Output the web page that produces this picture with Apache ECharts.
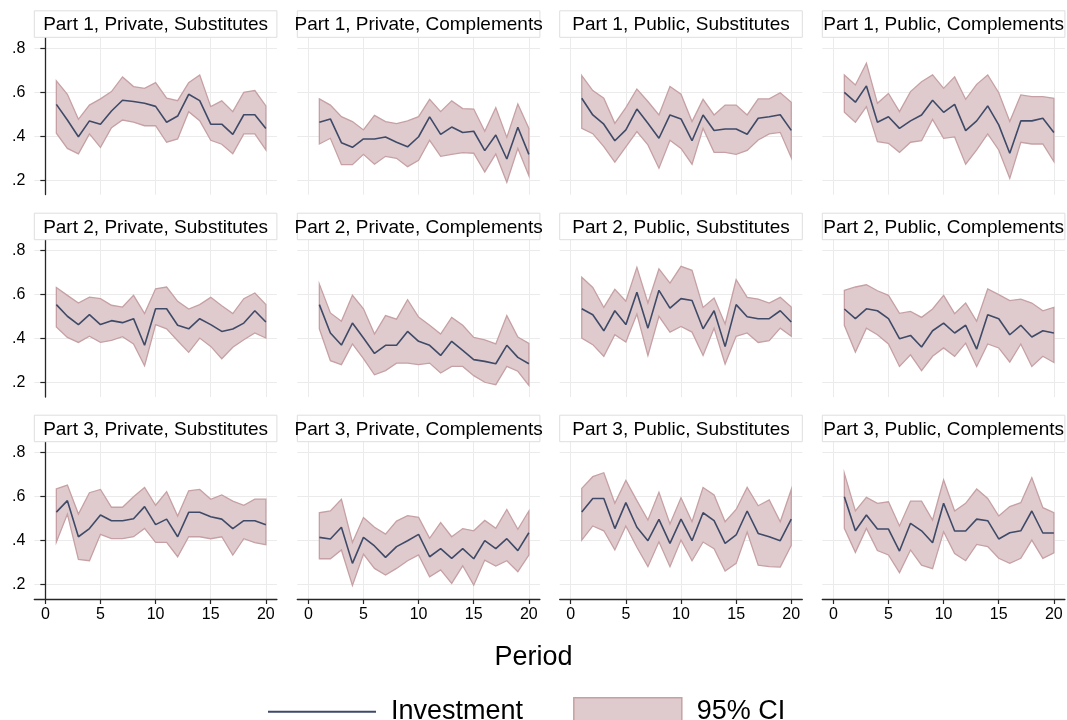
<!DOCTYPE html>
<html>
<head>
<meta charset="utf-8">
<script src="https://cdn.jsdelivr.net/npm/echarts@6/dist/echarts.min.js"></script>
<style>
  html, body { margin: 0; padding: 0; background: #fff; }
  #chart { width: 1067px; height: 720px; }
</style>
</head>
<body>
<div id="chart"></div>
<script>
// periods on the x axis
const periods = [1,2,3,4,5,6,7,8,9,10,11,12,13,14,15,16,17,18,19,20];
const xTicks = [0, 5, 10, 15, 20];
const yTicks = [0.2, 0.4, 0.6, 0.8];

// Part 1
const inv_p1_priv_sub = [0.545,0.474,0.398,0.470,0.455,0.515,0.564,0.558,0.550,0.536,0.464,0.492,0.591,0.562,0.455,0.455,0.409,0.498,0.498,0.436];
const hi_p1_priv_sub  = [0.652,0.591,0.477,0.542,0.570,0.603,0.670,0.626,0.618,0.644,0.573,0.562,0.644,0.679,0.535,0.561,0.512,0.600,0.608,0.538];
const lo_p1_priv_sub  = [0.414,0.345,0.320,0.411,0.350,0.439,0.474,0.464,0.448,0.448,0.373,0.388,0.512,0.471,0.382,0.364,0.321,0.411,0.411,0.338];

const inv_p1_priv_com = [0.464,0.479,0.371,0.350,0.388,0.388,0.397,0.373,0.352,0.398,0.488,0.409,0.442,0.417,0.423,0.335,0.406,0.297,0.441,0.318];
const hi_p1_priv_com  = [0.570,0.542,0.489,0.467,0.429,0.495,0.467,0.458,0.470,0.489,0.568,0.512,0.561,0.526,0.524,0.423,0.530,0.395,0.547,0.436];
const lo_p1_priv_com  = [0.365,0.391,0.271,0.271,0.318,0.273,0.309,0.300,0.262,0.291,0.382,0.309,0.318,0.326,0.323,0.238,0.320,0.191,0.345,0.221];

const inv_p1_pub_sub = [0.573,0.497,0.455,0.380,0.429,0.524,0.459,0.391,0.497,0.479,0.380,0.497,0.426,0.433,0.433,0.409,0.482,0.489,0.498,0.427];
const hi_p1_pub_sub  = [0.676,0.608,0.573,0.459,0.530,0.615,0.558,0.497,0.626,0.591,0.467,0.568,0.497,0.542,0.542,0.497,0.570,0.570,0.598,0.555];
const lo_p1_pub_sub  = [0.436,0.412,0.353,0.283,0.352,0.421,0.361,0.255,0.382,0.345,0.273,0.436,0.327,0.327,0.318,0.336,0.383,0.411,0.418,0.303];

const inv_p1_pub_com = [0.600,0.555,0.629,0.464,0.489,0.436,0.470,0.497,0.564,0.509,0.545,0.426,0.470,0.538,0.452,0.323,0.470,0.470,0.482,0.417];
const hi_p1_pub_com  = [0.679,0.633,0.732,0.550,0.595,0.512,0.603,0.648,0.679,0.618,0.670,0.568,0.636,0.679,0.598,0.467,0.588,0.580,0.580,0.573];
const lo_p1_pub_com  = [0.509,0.464,0.535,0.376,0.368,0.327,0.373,0.380,0.477,0.391,0.397,0.273,0.338,0.411,0.338,0.209,0.373,0.365,0.365,0.285];

// Part 2
const inv_p2_priv_sub = [0.555,0.502,0.464,0.509,0.464,0.482,0.473,0.491,0.370,0.536,0.536,0.461,0.445,0.491,0.464,0.433,0.444,0.471,0.527,0.476];
const hi_p2_priv_sub  = [0.633,0.597,0.562,0.589,0.582,0.552,0.544,0.597,0.514,0.627,0.635,0.570,0.535,0.555,0.588,0.550,0.514,0.582,0.608,0.555];
const lo_p2_priv_sub  = [0.453,0.406,0.383,0.411,0.383,0.392,0.409,0.376,0.277,0.464,0.445,0.391,0.338,0.403,0.365,0.309,0.361,0.395,0.426,0.403];

const inv_p2_priv_com = [0.555,0.426,0.371,0.471,0.403,0.333,0.370,0.370,0.433,0.388,0.370,0.324,0.388,0.347,0.305,0.297,0.286,0.370,0.315,0.286];
const hi_p2_priv_com  = [0.648,0.517,0.479,0.597,0.536,0.421,0.505,0.489,0.577,0.498,0.461,0.421,0.497,0.461,0.406,0.395,0.376,0.505,0.408,0.379];
const lo_p2_priv_com  = [0.445,0.300,0.282,0.376,0.309,0.236,0.255,0.289,0.289,0.282,0.289,0.244,0.274,0.274,0.232,0.202,0.191,0.274,0.252,0.188];

const inv_p2_pub_sub = [0.536,0.509,0.436,0.527,0.464,0.611,0.448,0.620,0.539,0.582,0.574,0.445,0.527,0.364,0.555,0.500,0.491,0.491,0.527,0.476];
const hi_p2_pub_sub  = [0.679,0.633,0.542,0.624,0.570,0.724,0.562,0.717,0.653,0.729,0.711,0.542,0.585,0.467,0.668,0.588,0.580,0.562,0.588,0.544];
const lo_p2_pub_sub  = [0.403,0.373,0.320,0.418,0.385,0.512,0.324,0.502,0.430,0.456,0.430,0.324,0.448,0.285,0.411,0.426,0.383,0.391,0.448,0.411];

const inv_p2_pub_com = [0.535,0.491,0.536,0.527,0.491,0.400,0.415,0.362,0.436,0.471,0.426,0.461,0.353,0.509,0.491,0.418,0.461,0.408,0.436,0.426];
const hi_p2_pub_com  = [0.620,0.635,0.645,0.618,0.597,0.515,0.524,0.497,0.535,0.597,0.514,0.562,0.479,0.626,0.600,0.573,0.580,0.562,0.527,0.542];
const lo_p2_pub_com  = [0.461,0.339,0.448,0.418,0.376,0.274,0.327,0.255,0.320,0.358,0.320,0.380,0.274,0.376,0.358,0.294,0.376,0.274,0.320,0.292];

// Part 3
const inv_p3_priv_sub = [0.530,0.582,0.418,0.455,0.517,0.491,0.491,0.500,0.555,0.473,0.498,0.418,0.529,0.529,0.509,0.498,0.455,0.491,0.491,0.473];
const hi_p3_priv_sub  = [0.636,0.653,0.521,0.618,0.633,0.552,0.552,0.600,0.642,0.561,0.623,0.512,0.627,0.633,0.588,0.608,0.580,0.561,0.589,0.589];
const lo_p3_priv_sub  = [0.394,0.521,0.315,0.309,0.429,0.409,0.409,0.418,0.456,0.392,0.392,0.327,0.418,0.418,0.409,0.418,0.335,0.409,0.391,0.382];

const inv_p3_priv_com = [0.415,0.408,0.461,0.297,0.415,0.376,0.324,0.373,0.400,0.429,0.327,0.364,0.320,0.364,0.318,0.400,0.364,0.409,0.355,0.436];
const hi_p3_priv_com  = [0.527,0.535,0.588,0.392,0.505,0.461,0.430,0.489,0.514,0.506,0.411,0.482,0.418,0.455,0.445,0.492,0.456,0.542,0.452,0.535];
const lo_p3_priv_com  = [0.318,0.318,0.358,0.197,0.339,0.274,0.244,0.274,0.309,0.335,0.236,0.267,0.206,0.286,0.198,0.312,0.285,0.309,0.259,0.335];

const inv_p3_pub_sub = [0.530,0.592,0.592,0.455,0.573,0.461,0.400,0.497,0.388,0.498,0.400,0.527,0.491,0.388,0.426,0.535,0.433,0.418,0.400,0.498];
const hi_p3_pub_sub  = [0.638,0.691,0.709,0.570,0.674,0.582,0.494,0.620,0.476,0.595,0.486,0.642,0.608,0.486,0.542,0.642,0.559,0.585,0.486,0.633];
const lo_p3_pub_sub  = [0.403,0.467,0.445,0.358,0.467,0.370,0.282,0.395,0.282,0.403,0.309,0.394,0.364,0.262,0.297,0.439,0.289,0.282,0.280,0.379];

const inv_p3_pub_com = [0.600,0.445,0.517,0.453,0.453,0.353,0.479,0.445,0.391,0.570,0.444,0.444,0.498,0.491,0.408,0.436,0.445,0.535,0.435,0.435];
const hi_p3_pub_com  = [0.706,0.535,0.597,0.570,0.577,0.467,0.580,0.580,0.494,0.676,0.535,0.570,0.635,0.592,0.512,0.555,0.573,0.686,0.550,0.527];
const lo_p3_pub_com  = [0.456,0.347,0.456,0.355,0.335,0.255,0.358,0.289,0.273,0.441,0.342,0.309,0.383,0.373,0.320,0.297,0.320,0.403,0.320,0.345];

const panels = [
  { title: 'Part 1, Private, Substitutes', mean: inv_p1_priv_sub, lo: lo_p1_priv_sub, hi: hi_p1_priv_sub },
  { title: 'Part 1, Private, Complements', mean: inv_p1_priv_com, lo: lo_p1_priv_com, hi: hi_p1_priv_com },
  { title: 'Part 1, Public, Substitutes',  mean: inv_p1_pub_sub,  lo: lo_p1_pub_sub,  hi: hi_p1_pub_sub },
  { title: 'Part 1, Public, Complements',  mean: inv_p1_pub_com,  lo: lo_p1_pub_com,  hi: hi_p1_pub_com },
  { title: 'Part 2, Private, Substitutes', mean: inv_p2_priv_sub, lo: lo_p2_priv_sub, hi: hi_p2_priv_sub },
  { title: 'Part 2, Private, Complements', mean: inv_p2_priv_com, lo: lo_p2_priv_com, hi: hi_p2_priv_com },
  { title: 'Part 2, Public, Substitutes',  mean: inv_p2_pub_sub,  lo: lo_p2_pub_sub,  hi: hi_p2_pub_sub },
  { title: 'Part 2, Public, Complements',  mean: inv_p2_pub_com,  lo: lo_p2_pub_com,  hi: hi_p2_pub_com },
  { title: 'Part 3, Private, Substitutes', mean: inv_p3_priv_sub, lo: lo_p3_priv_sub, hi: hi_p3_priv_sub },
  { title: 'Part 3, Private, Complements', mean: inv_p3_priv_com, lo: lo_p3_priv_com, hi: hi_p3_priv_com },
  { title: 'Part 3, Public, Substitutes',  mean: inv_p3_pub_sub,  lo: lo_p3_pub_sub,  hi: hi_p3_pub_sub },
  { title: 'Part 3, Public, Complements',  mean: inv_p3_pub_com,  lo: lo_p3_pub_com,  hi: hi_p3_pub_com }
];

const FONT = '"Liberation Sans", Arial, Helvetica, sans-serif';
const lineColor = '#3e4a68';
const bandFill = '#dfcbcd';
const bandEdge = '#c6a0a4';
const gridColor = '#ebebeb';
const axisColor = '#262626';

// panel layout (px)
const colLeft = [34.3, 297.3, 559.7, 822.3];
const rowTop = [37.3, 239.7, 441.7];
const plotW = 242.6, plotH = 157.3, headH = 26.5;

let chart = echarts.init(document.getElementById('chart'), null, { renderer: 'canvas' });

let grids = [], xAxes = [], yAxes = [], series = [], graphics = [];

panels.forEach((p, i) => {
  const col = i % 4, row = Math.floor(i / 4);
  const bottomRow = row === 2, firstCol = col === 0;

  grids.push({
    left: colLeft[col], top: rowTop[row], width: plotW, height: plotH,
    containLabel: false, outerBoundsMode: 'none'
  });

  xAxes.push({
    type: 'value', gridIndex: i, min: -1, max: 21,
    axisLine: { show: bottomRow, onZero: false, lineStyle: { color: axisColor, width: 1.3 } },
    axisTick: { show: bottomRow, customValues: xTicks, length: 5, lineStyle: { color: axisColor, width: 1.2 } },
    axisLabel: { show: bottomRow, customValues: xTicks, margin: 8, color: '#000', fontSize: 16, fontFamily: FONT },
    splitLine: { show: true, lineStyle: { color: gridColor, width: 1 } }
  });

  yAxes.push({
    type: 'value', gridIndex: i, min: 0.135, max: 0.85,
    axisLine: { show: firstCol, lineStyle: { color: axisColor, width: 1.3 } },
    axisTick: { show: firstCol, customValues: yTicks, length: 5, lineStyle: { color: axisColor, width: 1.2 } },
    axisLabel: {
      show: firstCol, customValues: yTicks, margin: 9, color: '#000', fontSize: 16, fontFamily: FONT,
      formatter: v => '.' + Math.round(v * 10)
    },
    splitLine: { show: true, lineStyle: { color: gridColor, width: 1 } }
  });

  // 95% CI band
  series.push({
    name: '95% CI', type: 'custom', xAxisIndex: i, yAxisIndex: i,
    silent: true, z: 1,
    itemStyle: { color: bandFill, borderColor: bandEdge, borderWidth: 1.5 },
    data: periods.map((x, k) => [x, p.lo[k], p.hi[k]]),
    encode: { x: 0, y: [1, 2] },
    renderItem: (params, api) => {
      if (params.dataIndex !== 0) return null;
      let pts = [];
      for (let k = 0; k < periods.length; k++) pts.push(api.coord([periods[k], p.hi[k]]));
      for (let k = periods.length - 1; k >= 0; k--) pts.push(api.coord([periods[k], p.lo[k]]));
      return {
        type: 'polygon', shape: { points: pts },
        style: { fill: bandFill, stroke: bandEdge, lineWidth: 1.3 }
      };
    }
  });

  // investment line
  series.push({
    name: 'Investment', type: 'line', xAxisIndex: i, yAxisIndex: i,
    data: periods.map((x, k) => [x, p.mean[k]]),
    symbol: 'none', z: 3, silent: true,
    lineStyle: { color: lineColor, width: 1.6 },
    itemStyle: { color: lineColor }
  });

  // panel header box
  const left = colLeft[col], top = rowTop[row] - headH;
  graphics.push({
    type: 'rect', silent: true, z: 5,
    shape: { x: left, y: top, width: plotW, height: headH },
    style: { fill: '#fff', stroke: '#dedede', lineWidth: 1 }
  });
  graphics.push({
    type: 'text', silent: true, z: 6,
    x: left + plotW / 2, y: top + headH / 2 + 1,
    style: { text: p.title, fill: '#000', font: '19px ' + FONT, textAlign: 'center', textVerticalAlign: 'middle' }
  });
});

let option = {
  backgroundColor: '#fff',
  animation: false,
  title: {
    text: 'Period', left: 'center', top: 639,
    textStyle: { fontSize: 27, fontWeight: 'normal', color: '#000', fontFamily: FONT }
  },
  legend: {
    top: 692, left: 263,
    itemWidth: 108, itemHeight: 28, itemGap: 50,
    textStyle: { fontSize: 27, color: '#000', fontFamily: FONT, padding: [0, 0, 0, 10] },
    data: [
      { name: 'Investment', icon: 'path://M0,0L108,0L108,2L0,2Z', itemStyle: { color: lineColor, borderWidth: 0 } },
      { name: '95% CI', icon: 'rect', itemStyle: { color: bandFill, borderColor: bandEdge, borderWidth: 1.5 } }
    ]
  },
  grid: grids,
  xAxis: xAxes,
  yAxis: yAxes,
  series: series,
  graphic: graphics
};

chart.setOption(option);
</script>
</body>
</html>
